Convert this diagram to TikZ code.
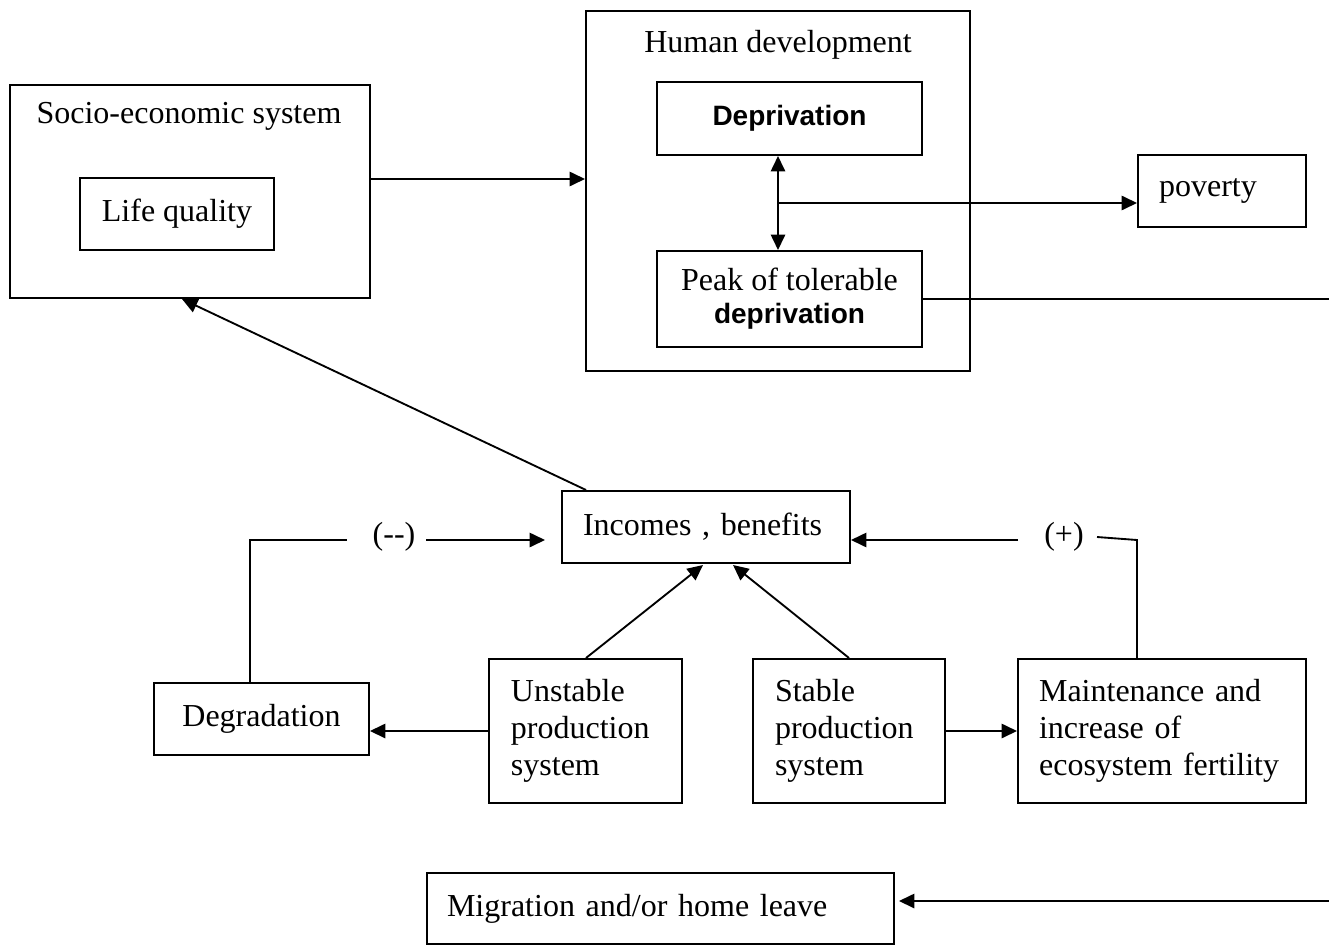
\documentclass[tikz,border=0pt]{standalone}
\usepackage{fontspec}
\setmainfont{Liberation Serif}
\newfontfamily\arialb{Liberation Sans}
\usetikzlibrary{arrows.meta}
\begin{document}
\begin{tikzpicture}[x=0.375pt,y=-0.375pt,
  font=\fontsize{12}{13.9}\selectfont,
  box/.style={draw,line width=0.75pt,inner sep=0pt},
  lbox/.style={box,align=left,inner xsep=7.9pt},
  txt/.style={inner sep=0pt},
  conn/.style={line width=0.7pt},
  arr/.style={conn,-{Triangle[length=5.8pt,width=5.4pt]}},
  darr/.style={conn,{Triangle[length=5.8pt,width=5.4pt]}-{Triangle[length=5.8pt,width=5.4pt]}},
  dep/.style={font=\arialb\bfseries\fontsize{10.5}{13}\selectfont}]
\useasboundingbox (0,0) rectangle (1329,945);
% socio-economic system
\node[box,minimum width=135pt,minimum height=79.875pt] (socio) at (190,191.5) {};
\node[txt] (sociot) at (189,116) {Socio-economic system};
\node[box,minimum width=72.75pt,minimum height=27pt] (life) at (177,214) {Life quality};
% human development
\node[box,minimum width=144pt,minimum height=135pt] (human) at (778,191) {};
\node[txt] (humant) at (778,45) {Human development};
\node[box,minimum width=99.375pt,minimum height=27.375pt,dep] (depr) at (789.5,118.5) {\raisebox{1.2pt}{Deprivation}};
\node[box,minimum width=99.375pt,minimum height=36pt,align=center,font=\fontsize{12}{13.1}\selectfont] (peak) at (789.5,299) {\raisebox{-0.8pt}{Peak of tolerable}\\{\arialb\bfseries\fontsize{10.5}{13}\selectfont deprivation}};
\node[lbox,text width=47.2pt,minimum height=27pt] (poverty) at (1222,191) {\raisebox{1.5pt}{poverty}};
% middle
\node[lbox,text width=92.2pt,minimum height=27pt] (incomes) at (706,527) {\raisebox{1.2pt}{Incomes , benefits}};
\node[box,minimum width=80.6pt,minimum height=27pt] (degr) at (261.5,719) {\raisebox{1.8pt}{Degradation}};
\node[lbox,inner xsep=8.25pt,text width=55.9pt,minimum height=54pt] (unstable) at (585.5,731) {Unstable\\production\\system};
\node[lbox,inner xsep=8.25pt,text width=55.5pt,minimum height=54pt] (stable) at (849,731) {Stable\\production\\system};
\node[lbox,text width=92.2pt,minimum height=54pt] (maint) at (1162,731) {Maintenance and\\increase of\\ecosystem fertility};
\node[lbox,inner xsep=7.5pt,text width=160.1pt,minimum height=26.6pt] (migr) at (660.5,908.5) {\raisebox{1.8pt}{Migration and/or home leave}};
% labels
\node[txt] (neg) at (394,537) {({-}{-})};
\node[txt] (pos) at (1064,537) {(+)};
% helper coordinates
\coordinate (xa) at (778,0);
\coordinate (brk) at (778,203);
\coordinate (ya) at (0,179);
\coordinate (edgeA) at (1329,299);
\coordinate (edgeB) at (1329,901);
\coordinate (ym) at (0,901);
\coordinate (xi) at (586,0);
\coordinate (xs) at (182,0);
\coordinate (yl) at (0,540);
\coordinate (dl) at (250,0);
\coordinate (n1) at (250,540);
\coordinate (n2) at (347,540);
\coordinate (n3) at (426,540);
\coordinate (p1) at (1137,540);
\coordinate (p2) at (1097,537);
\coordinate (p3) at (1018,540);
\coordinate (xu) at (586,0);
\coordinate (tu) at (703,565);
\coordinate (xst) at (849,0);
\coordinate (ts) at (733,565);
\coordinate (ymid) at (0,731);
% connectors
\draw[arr] (socio.east |- ya) -- (human.west |- ya);
\draw[darr] (depr.south -| xa) -- (peak.north -| xa);
\draw[arr] (brk) -- (poverty.west |- brk);
\draw[conn] (peak.east) -- (edgeA);
\draw[arr,shorten >=1.5pt] (edgeB) -- (migr.east |- ym);
\draw[arr] (incomes.north -| xi) -- (socio.south -| xs);
\draw[conn] (degr.north -| dl) -- (n1) -- (n2);
\draw[arr,shorten >=6pt] (n3) -- (incomes.west |- yl);
\draw[conn] (maint.north -| p1) -- (p1) -- (p2);
\draw[arr] (p3) -- (incomes.east |- yl);
\draw[arr] (unstable.north -| xu) -- (tu);
\draw[arr] (stable.north -| xst) -- (ts);
\draw[arr] (unstable.west |- ymid) -- (degr.east |- ymid);
\draw[arr] (stable.east |- ymid) -- (maint.west |- ymid);
\end{tikzpicture}
\end{document}
